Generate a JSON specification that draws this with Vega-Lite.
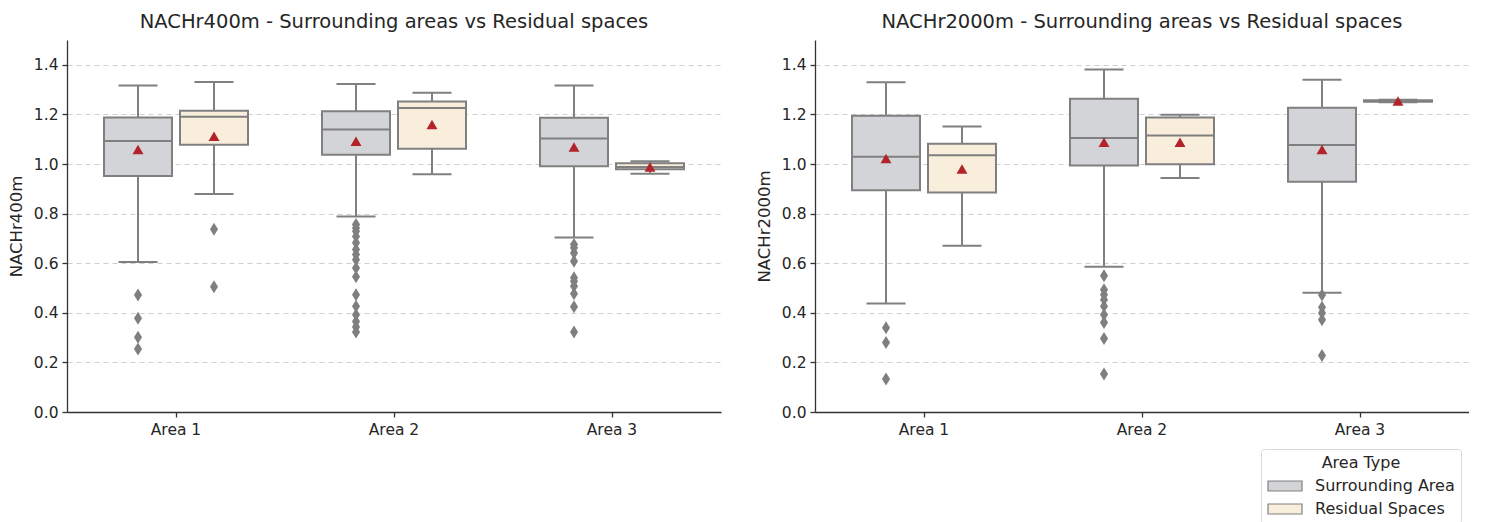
{
  "$schema": "https://vega.github.io/schema/vega-lite/v6.json",
  "background": "white",
  "padding": {"left": 8, "top": 11, "right": 0, "bottom": 0},
  "config": {
    "font": "DejaVu Sans",
    "view": {"stroke": null},
    "title": {"fontSize": 19.5, "fontWeight": "normal", "color": "#262626", "offset": 8},
    "axis": {
      "labelFont": "DejaVu Sans",
      "titleFont": "DejaVu Sans",
      "labelFontSize": 15.5,
      "titleFontSize": 16.5,
      "titleFontWeight": "normal",
      "labelColor": "#262626",
      "titleColor": "#262626",
      "domainColor": "#333333",
      "tickColor": "#333333",
      "domainWidth": 1.3,
      "tickWidth": 1.3,
      "tickSize": 5
    },
    "legend": {"labelFont": "DejaVu Sans", "titleFont": "DejaVu Sans"}
  },
  "datasets": {
    "boxes": [
      {"metric": "NACHr400m", "area": "Area 1", "type": "Surrounding Area", "lo": 0.605, "q1": 0.952, "med": 1.093, "q3": 1.188, "hi": 1.317, "mean": 1.058},
      {"metric": "NACHr400m", "area": "Area 1", "type": "Residual Spaces", "lo": 0.879, "q1": 1.078, "med": 1.191, "q3": 1.215, "hi": 1.331, "mean": 1.112},
      {"metric": "NACHr400m", "area": "Area 2", "type": "Surrounding Area", "lo": 0.788, "q1": 1.037, "med": 1.139, "q3": 1.213, "hi": 1.323, "mean": 1.092},
      {"metric": "NACHr400m", "area": "Area 2", "type": "Residual Spaces", "lo": 0.959, "q1": 1.061, "med": 1.226, "q3": 1.252, "hi": 1.287, "mean": 1.159},
      {"metric": "NACHr400m", "area": "Area 3", "type": "Surrounding Area", "lo": 0.704, "q1": 0.991, "med": 1.103, "q3": 1.186, "hi": 1.317, "mean": 1.069},
      {"metric": "NACHr400m", "area": "Area 3", "type": "Residual Spaces", "lo": 0.961, "q1": 0.979, "med": 0.988, "q3": 1.003, "hi": 1.011, "mean": 0.988},
      {"metric": "NACHr2000m", "area": "Area 1", "type": "Surrounding Area", "lo": 0.438, "q1": 0.894, "med": 1.029, "q3": 1.195, "hi": 1.330, "mean": 1.022},
      {"metric": "NACHr2000m", "area": "Area 1", "type": "Residual Spaces", "lo": 0.670, "q1": 0.885, "med": 1.035, "q3": 1.082, "hi": 1.151, "mean": 0.980},
      {"metric": "NACHr2000m", "area": "Area 2", "type": "Surrounding Area", "lo": 0.586, "q1": 0.994, "med": 1.105, "q3": 1.263, "hi": 1.381, "mean": 1.088},
      {"metric": "NACHr2000m", "area": "Area 2", "type": "Residual Spaces", "lo": 0.944, "q1": 0.999, "med": 1.115, "q3": 1.187, "hi": 1.199, "mean": 1.088},
      {"metric": "NACHr2000m", "area": "Area 3", "type": "Surrounding Area", "lo": 0.481, "q1": 0.928, "med": 1.077, "q3": 1.227, "hi": 1.340, "mean": 1.058},
      {"metric": "NACHr2000m", "area": "Area 3", "type": "Residual Spaces", "lo": 1.249, "q1": 1.251, "med": 1.254, "q3": 1.257, "hi": 1.259, "mean": 1.254}
    ],
    "outliers": [
      {"metric": "NACHr400m", "area": "Area 1", "type": "Surrounding Area", "value": 0.472},
      {"metric": "NACHr400m", "area": "Area 1", "type": "Surrounding Area", "value": 0.378},
      {"metric": "NACHr400m", "area": "Area 1", "type": "Surrounding Area", "value": 0.301},
      {"metric": "NACHr400m", "area": "Area 1", "type": "Surrounding Area", "value": 0.254},
      {"metric": "NACHr400m", "area": "Area 1", "type": "Residual Spaces", "value": 0.737},
      {"metric": "NACHr400m", "area": "Area 1", "type": "Residual Spaces", "value": 0.505},
      {"metric": "NACHr400m", "area": "Area 2", "type": "Surrounding Area", "value": 0.756},
      {"metric": "NACHr400m", "area": "Area 2", "type": "Surrounding Area", "value": 0.742},
      {"metric": "NACHr400m", "area": "Area 2", "type": "Surrounding Area", "value": 0.729},
      {"metric": "NACHr400m", "area": "Area 2", "type": "Surrounding Area", "value": 0.708},
      {"metric": "NACHr400m", "area": "Area 2", "type": "Surrounding Area", "value": 0.682},
      {"metric": "NACHr400m", "area": "Area 2", "type": "Surrounding Area", "value": 0.655},
      {"metric": "NACHr400m", "area": "Area 2", "type": "Surrounding Area", "value": 0.635},
      {"metric": "NACHr400m", "area": "Area 2", "type": "Surrounding Area", "value": 0.614},
      {"metric": "NACHr400m", "area": "Area 2", "type": "Surrounding Area", "value": 0.581},
      {"metric": "NACHr400m", "area": "Area 2", "type": "Surrounding Area", "value": 0.545},
      {"metric": "NACHr400m", "area": "Area 2", "type": "Surrounding Area", "value": 0.473},
      {"metric": "NACHr400m", "area": "Area 2", "type": "Surrounding Area", "value": 0.426},
      {"metric": "NACHr400m", "area": "Area 2", "type": "Surrounding Area", "value": 0.392},
      {"metric": "NACHr400m", "area": "Area 2", "type": "Surrounding Area", "value": 0.365},
      {"metric": "NACHr400m", "area": "Area 2", "type": "Surrounding Area", "value": 0.343},
      {"metric": "NACHr400m", "area": "Area 2", "type": "Surrounding Area", "value": 0.323},
      {"metric": "NACHr400m", "area": "Area 3", "type": "Surrounding Area", "value": 0.675},
      {"metric": "NACHr400m", "area": "Area 3", "type": "Surrounding Area", "value": 0.662},
      {"metric": "NACHr400m", "area": "Area 3", "type": "Surrounding Area", "value": 0.641},
      {"metric": "NACHr400m", "area": "Area 3", "type": "Surrounding Area", "value": 0.608},
      {"metric": "NACHr400m", "area": "Area 3", "type": "Surrounding Area", "value": 0.541},
      {"metric": "NACHr400m", "area": "Area 3", "type": "Surrounding Area", "value": 0.527},
      {"metric": "NACHr400m", "area": "Area 3", "type": "Surrounding Area", "value": 0.507},
      {"metric": "NACHr400m", "area": "Area 3", "type": "Surrounding Area", "value": 0.477},
      {"metric": "NACHr400m", "area": "Area 3", "type": "Surrounding Area", "value": 0.424},
      {"metric": "NACHr400m", "area": "Area 3", "type": "Surrounding Area", "value": 0.323},
      {"metric": "NACHr2000m", "area": "Area 1", "type": "Surrounding Area", "value": 0.340},
      {"metric": "NACHr2000m", "area": "Area 1", "type": "Surrounding Area", "value": 0.280},
      {"metric": "NACHr2000m", "area": "Area 1", "type": "Surrounding Area", "value": 0.133},
      {"metric": "NACHr2000m", "area": "Area 2", "type": "Surrounding Area", "value": 0.549},
      {"metric": "NACHr2000m", "area": "Area 2", "type": "Surrounding Area", "value": 0.493},
      {"metric": "NACHr2000m", "area": "Area 2", "type": "Surrounding Area", "value": 0.473},
      {"metric": "NACHr2000m", "area": "Area 2", "type": "Surrounding Area", "value": 0.453},
      {"metric": "NACHr2000m", "area": "Area 2", "type": "Surrounding Area", "value": 0.426},
      {"metric": "NACHr2000m", "area": "Area 2", "type": "Surrounding Area", "value": 0.392},
      {"metric": "NACHr2000m", "area": "Area 2", "type": "Surrounding Area", "value": 0.361},
      {"metric": "NACHr2000m", "area": "Area 2", "type": "Surrounding Area", "value": 0.296},
      {"metric": "NACHr2000m", "area": "Area 2", "type": "Surrounding Area", "value": 0.153},
      {"metric": "NACHr2000m", "area": "Area 3", "type": "Surrounding Area", "value": 0.472},
      {"metric": "NACHr2000m", "area": "Area 3", "type": "Surrounding Area", "value": 0.422},
      {"metric": "NACHr2000m", "area": "Area 3", "type": "Surrounding Area", "value": 0.399},
      {"metric": "NACHr2000m", "area": "Area 3", "type": "Surrounding Area", "value": 0.372},
      {"metric": "NACHr2000m", "area": "Area 3", "type": "Surrounding Area", "value": 0.228}
    ]
  },
  "spacing": 35,
  "resolve": {"legend": {"fill": "independent"}},
  "hconcat": [
    {
      "title": "NACHr400m - Surrounding areas vs Residual spaces",
      "width": 654,
      "height": 372,
      "encoding": {
        "x": {"field": "area", "type": "nominal", "title": null, "scale": {"paddingInner": 0, "paddingOuter": 0}, "axis": {"labelAngle": 0, "labelPadding": 5, "grid": false}},
        "xOffset": {"field": "type", "type": "nominal", "scale": {"domain": ["Surrounding Area", "Residual Spaces"], "paddingInner": 0.105, "paddingOuter": 0.487}}
      },
      "layer": [
        {
          "data": {"name": "boxes"},
          "transform": [{"filter": "datum.metric === 'NACHr400m'"}],
          "mark": {"type": "rule", "color": "#808080", "strokeWidth": 2},
          "encoding": {
            "y": {"field": "lo", "type": "quantitative", "title": "NACHr400m", "scale": {"domain": [0, 1.5], "nice": false, "zero": true}, "axis": {"values": [0, 0.2, 0.4, 0.6, 0.8, 1.0, 1.2, 1.4], "format": ".1f", "grid": true, "gridDash": [5, 4], "gridColor": "#cfcfcf", "gridWidth": 1, "labelPadding": 4, "titlePadding": 9}},
            "y2": {"field": "q1"}
          }
        },
        {
          "data": {"name": "boxes"},
          "transform": [{"filter": "datum.metric === 'NACHr400m'"}],
          "mark": {"type": "rule", "color": "#808080", "strokeWidth": 2},
          "encoding": {"y": {"field": "q3", "type": "quantitative"}, "y2": {"field": "hi"}}
        },
        {
          "data": {"name": "boxes"},
          "transform": [{"filter": "datum.metric === 'NACHr400m'"}],
          "mark": {"type": "tick", "color": "#808080", "size": 39, "thickness": 2, "opacity": 1},
          "encoding": {"y": {"field": "lo", "type": "quantitative"}}
        },
        {
          "data": {"name": "boxes"},
          "transform": [{"filter": "datum.metric === 'NACHr400m'"}],
          "mark": {"type": "tick", "color": "#808080", "size": 39, "thickness": 2, "opacity": 1},
          "encoding": {"y": {"field": "hi", "type": "quantitative"}}
        },
        {
          "data": {"name": "boxes"},
          "transform": [{"filter": "datum.metric === 'NACHr400m'"}],
          "mark": {"type": "bar", "stroke": "#808080", "strokeWidth": 2},
          "encoding": {
            "y": {"field": "q1", "type": "quantitative"},
            "y2": {"field": "q3"},
            "fill": {"field": "type", "type": "nominal", "scale": {"domain": ["Surrounding Area", "Residual Spaces"], "range": ["#d3d4d7", "#f8eedb"]}, "legend": null}
          }
        },
        {
          "data": {"name": "boxes"},
          "transform": [{"filter": "datum.metric === 'NACHr400m'"}],
          "mark": {"type": "tick", "color": "#808080", "size": 68, "thickness": 2, "opacity": 1},
          "encoding": {"y": {"field": "med", "type": "quantitative"}}
        },
        {
          "data": {"name": "boxes"},
          "transform": [{"filter": "datum.metric === 'NACHr400m'"}],
          "mark": {"type": "point", "shape": "triangle-up", "filled": true, "color": "#b2242a", "size": 120, "opacity": 1},
          "encoding": {"y": {"field": "mean", "type": "quantitative"}}
        },
        {
          "data": {"name": "outliers"},
          "transform": [{"filter": "datum.metric === 'NACHr400m'"}],
          "mark": {"type": "point", "shape": "M0,-1L0.62,0L0,1L-0.62,0Z", "filled": true, "color": "#7f7f7f", "size": 170, "opacity": 1},
          "encoding": {"y": {"field": "value", "type": "quantitative"}}
        }
      ]
    },
    {
      "title": "NACHr2000m - Surrounding areas vs Residual spaces",
      "width": 654,
      "height": 372,
      "encoding": {
        "x": {"field": "area", "type": "nominal", "title": null, "scale": {"paddingInner": 0, "paddingOuter": 0}, "axis": {"labelAngle": 0, "labelPadding": 5, "grid": false}},
        "xOffset": {"field": "type", "type": "nominal", "scale": {"domain": ["Surrounding Area", "Residual Spaces"], "paddingInner": 0.105, "paddingOuter": 0.487}}
      },
      "layer": [
        {
          "data": {"name": "boxes"},
          "transform": [{"filter": "datum.metric === 'NACHr2000m'"}],
          "mark": {"type": "rule", "color": "#808080", "strokeWidth": 2},
          "encoding": {
            "y": {"field": "lo", "type": "quantitative", "title": "NACHr2000m", "scale": {"domain": [0, 1.5], "nice": false, "zero": true}, "axis": {"values": [0, 0.2, 0.4, 0.6, 0.8, 1.0, 1.2, 1.4], "format": ".1f", "grid": true, "gridDash": [5, 4], "gridColor": "#cfcfcf", "gridWidth": 1, "labelPadding": 4, "titlePadding": 9}},
            "y2": {"field": "q1"}
          }
        },
        {
          "data": {"name": "boxes"},
          "transform": [{"filter": "datum.metric === 'NACHr2000m'"}],
          "mark": {"type": "rule", "color": "#808080", "strokeWidth": 2},
          "encoding": {"y": {"field": "q3", "type": "quantitative"}, "y2": {"field": "hi"}}
        },
        {
          "data": {"name": "boxes"},
          "transform": [{"filter": "datum.metric === 'NACHr2000m'"}],
          "mark": {"type": "tick", "color": "#808080", "size": 39, "thickness": 2, "opacity": 1},
          "encoding": {"y": {"field": "lo", "type": "quantitative"}}
        },
        {
          "data": {"name": "boxes"},
          "transform": [{"filter": "datum.metric === 'NACHr2000m'"}],
          "mark": {"type": "tick", "color": "#808080", "size": 39, "thickness": 2, "opacity": 1},
          "encoding": {"y": {"field": "hi", "type": "quantitative"}}
        },
        {
          "data": {"name": "boxes"},
          "transform": [{"filter": "datum.metric === 'NACHr2000m'"}],
          "mark": {"type": "bar", "stroke": "#808080", "strokeWidth": 2},
          "encoding": {
            "y": {"field": "q1", "type": "quantitative"},
            "y2": {"field": "q3"},
            "fill": {
              "field": "type", "type": "nominal",
              "scale": {"domain": ["Surrounding Area", "Residual Spaces"], "range": ["#d3d4d7", "#f8eedb"]},
              "legend": {
                "title": "Area Type", "orient": "none", "legendX": 446, "legendY": 409,
                "titleAnchor": "middle", "titleFontSize": 16, "titleFontWeight": "normal", "titleColor": "#262626", "titlePadding": 4,
                "labelFontSize": 16, "labelColor": "#262626", "labelOffset": 26,
                "symbolType": "M-1,-0.5H2.4V0.5H-1Z", "symbolSize": 400, "symbolStrokeColor": "#808080", "symbolStrokeWidth": 1.2,
                "rowPadding": 4, "padding": 6, "strokeColor": "#d9d9d9", "cornerRadius": 3, "fillColor": "white"
              }
            }
          }
        },
        {
          "data": {"name": "boxes"},
          "transform": [{"filter": "datum.metric === 'NACHr2000m'"}],
          "mark": {"type": "tick", "color": "#808080", "size": 68, "thickness": 2, "opacity": 1},
          "encoding": {"y": {"field": "med", "type": "quantitative"}}
        },
        {
          "data": {"name": "boxes"},
          "transform": [{"filter": "datum.metric === 'NACHr2000m'"}],
          "mark": {"type": "point", "shape": "triangle-up", "filled": true, "color": "#b2242a", "size": 120, "opacity": 1},
          "encoding": {"y": {"field": "mean", "type": "quantitative"}}
        },
        {
          "data": {"name": "outliers"},
          "transform": [{"filter": "datum.metric === 'NACHr2000m'"}],
          "mark": {"type": "point", "shape": "M0,-1L0.62,0L0,1L-0.62,0Z", "filled": true, "color": "#7f7f7f", "size": 170, "opacity": 1},
          "encoding": {"y": {"field": "value", "type": "quantitative"}}
        }
      ]
    }
  ]
}
